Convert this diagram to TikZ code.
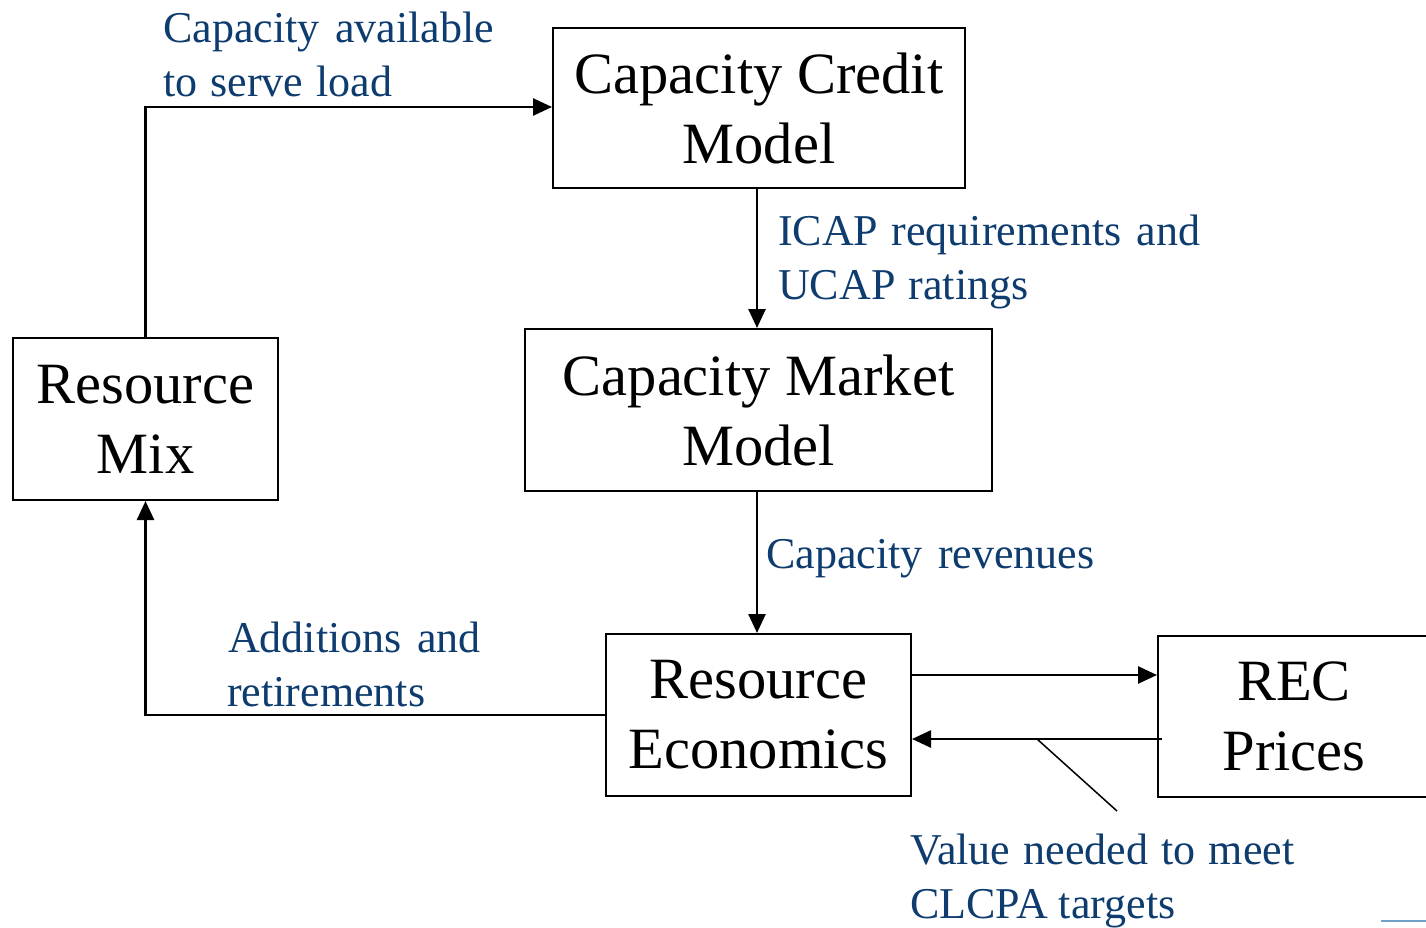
\documentclass[tikz,border=0pt]{standalone}
\usepackage{fontspec}
\setmainfont{Liberation Serif}
\usetikzlibrary{arrows.meta,calc}
\definecolor{lblue}{RGB}{14,60,110}
\definecolor{logoblue}{RGB}{110,160,200}
\begin{document}
\begin{tikzpicture}[x=1pt,y=-1pt,
  box/.style={draw,line width=2pt,align=center,font=\fontsize{58.5}{70}\selectfont,inner sep=0pt},
  lbl/.style={anchor=base west,text=lblue,font=\fontsize{44}{54}\selectfont,inner sep=0pt},
  conn/.style={line width=2.6pt,-{Triangle[length=19pt,width=17pt]}}]
\clip (0,0) rectangle (1426,928);
\fill[white] (0,0) rectangle (1426,928);
% boxes
\node[box,minimum width=412pt,minimum height=160pt] (ccm) at (759,108) {Capacity Credit\\Model};
\node[box,minimum width=467pt,minimum height=162pt] (cmm) at (758.5,410) {Capacity Market\\Model};
\node[box,minimum width=265pt,minimum height=162pt] (rm) at (145.5,419) {Resource\\Mix};
\node[box,minimum width=305pt,minimum height=162pt] (re) at (758.5,715) {Resource\\Economics};
\node[box,minimum width=272pt,minimum height=161pt,text width=272pt] (rec) at (1294,716.5) {REC\\Prices};
% labels
\node[lbl] (l1a) at (163,43) {Capacity\hspace{0.35em}available};
\node[lbl] (l1b) at (163,97) {to\hspace{0.3em}serve\hspace{0.3em}load};
\node[lbl] (l2a) at (778,245) {ICAP\hspace{0.3em}requirements\hspace{0.35em}and};
\node[lbl] (l2b) at (778,299) {UCAP\hspace{0.3em}ratings};
\node[lbl] (l3) at (766,568) {Capacity\hspace{0.35em}revenues};
\node[lbl] (l4a) at (228,652) {Additions\hspace{0.35em}and};
\node[lbl] (l4b) at (227,706) {retirements};
\node[lbl] (l5a) at (910,864) {Value\hspace{0.3em}needed\hspace{0.3em}to\hspace{0.3em}meet};
\node[lbl] (l5b) at (910,918) {CLCPA targets};
% connectors
\draw[conn] (rm.north) |- ($(ccm.west)+(0,-1)$);
\draw[conn] ($(ccm.south)+(-2,0)$) -- ($(cmm.north)+(-1.5,0)$);
\draw[conn] ($(cmm.south)+(-1.5,0)$) -- ($(re.north)+(-1.5,0)$);
\draw[conn] (re.west) -| (rm.south);
\draw[conn] ($(re.east)+(0,-40)$) -- ($(rec.west)+(0,-41.5)$);
\draw[conn] ($(rec.west)+(5,22.5)$) -- ($(re.east)+(0,24)$);
\coordinate (c1) at (1037,739);
\coordinate (c2) at (1117,811);
\draw[line width=1.5pt] (c1) -- (c2);
% cropped logo fragment
\coordinate (g1) at (1381,920.5);
\coordinate (g2) at (1426,920.5);
\draw[logoblue,line width=2pt] (g1) -- (g2);
\end{tikzpicture}
\end{document}
